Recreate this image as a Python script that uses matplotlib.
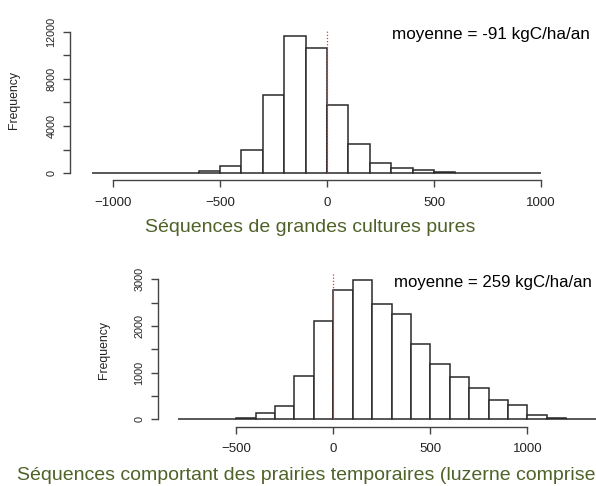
import numpy as np
import matplotlib
matplotlib.use('Agg')
import matplotlib.pyplot as plt

# histogram data (bin width 100 kgC/ha/an)
top_edges = np.arange(-1100, 1001, 100)
top_counts = [5, 10, 15, 20, 40, 200, 600, 2000, 6650, 11700, 10650,
              5800, 2450, 850, 450, 260, 80, 30, 20, 10, 10]
top_title = 'Séquences de grandes cultures pures'
top_mean = 'moyenne = -91 kgC/ha/an'

bot_edges = np.arange(-800, 1401, 100)
bot_counts = [3, 5, 8, 25, 140, 280, 930, 2110, 2760, 2990, 2460, 2265,
              1620, 1185, 900, 665, 415, 305, 90, 38, 12, 5]
bot_title = 'Séquences comportant des prairies temporaires (luzerne comprise'
bot_mean = 'moyenne = 259 kgC/ha/an'

W, H = 596, 486
plt.rcParams['font.family'] = ['Liberation Sans', 'DejaVu Sans']
green = '#4f6228'
axcol = '#444444'


def box(l, t, r, b):
    return [l / W, 1 - b / H, (r - l) / W, (b - t) / H]


def hist(ax, edges, counts, xlim, ylim, xticks, yticks, ylabels, spine_x, spine_y, lab_xy):
    ax.bar(edges[:-1], counts, width=np.diff(edges), align='edge',
           facecolor='white', edgecolor='#2a2a2a', linewidth=1.1)
    ax.vlines(0, 0, ylim[1], colors='#ff3030', linestyles=(0, (1, 1.5)), linewidth=0.9)
    ax.set_xlim(*xlim)
    ax.set_ylim(*ylim)
    for s in ['top', 'right']:
        ax.spines[s].set_visible(False)
    ax.spines['left'].set_position(('outward', spine_x))
    ax.spines['bottom'].set_position(('outward', spine_y))
    ax.spines['left'].set_bounds(yticks[0], yticks[-1])
    ax.spines['bottom'].set_bounds(xticks[0], xticks[-1])
    for s in ['left', 'bottom']:
        ax.spines[s].set_color(axcol)
        ax.spines[s].set_linewidth(1.0)
    ax.set_xticks(xticks)
    ax.set_xticklabels([str(v).replace('-', '\u2212') for v in xticks])
    ax.set_yticks(yticks)
    ax.set_yticklabels(ylabels, rotation=90, va='center')
    ax.tick_params(colors=axcol, labelcolor='#222222', length=5, width=1.0)
    ax.tick_params(axis='x', labelsize=9.5, pad=7)
    ax.tick_params(axis='y', labelsize=7.8, pad=5)
    ax.set_ylabel('Frequency', fontsize=8.8, color='#222222')
    ax.yaxis.set_label_coords(*lab_xy)


fig = plt.figure(figsize=(W / 100, H / 100), dpi=100)

ax1 = fig.add_axes(box(80, 30.7, 580, 176))
hist(ax1, top_edges, top_counts, (-1154, 1182), (-255, 12110),
     [-1000, -500, 0, 500, 1000], np.arange(0, 12001, 2000),
     ['0', '', '4000', '', '8000', '', '12000'], 7, 3, (-0.12, 0.523))

ax2 = fig.add_axes(box(168, 274.3, 596, 421))
hist(ax2, bot_edges, bot_counts, (-852, 1354), (-36, 3107),
     [-500, 0, 500, 1000], np.arange(0, 3001, 500),
     ['0', '', '1000', '', '2000', '', '3000'], 7, 4, (-0.1355, 0.484))

fig.text(392 / W, 1 - 35 / H, top_mean, fontsize=12.3,
         ha='left', va='center', color='black')
fig.text(394 / W, 1 - 282 / H, bot_mean, fontsize=12.1,
         ha='left', va='center', color='black')

fig.text(310 / W, 1 - 228 / H, top_title, fontsize=14,
         ha='center', va='center', color=green)
fig.text(17 / W, 1 - 475 / H, bot_title, fontsize=14,
         ha='left', va='center', color=green)

fig.savefig('out.png', dpi=100, facecolor='white')
